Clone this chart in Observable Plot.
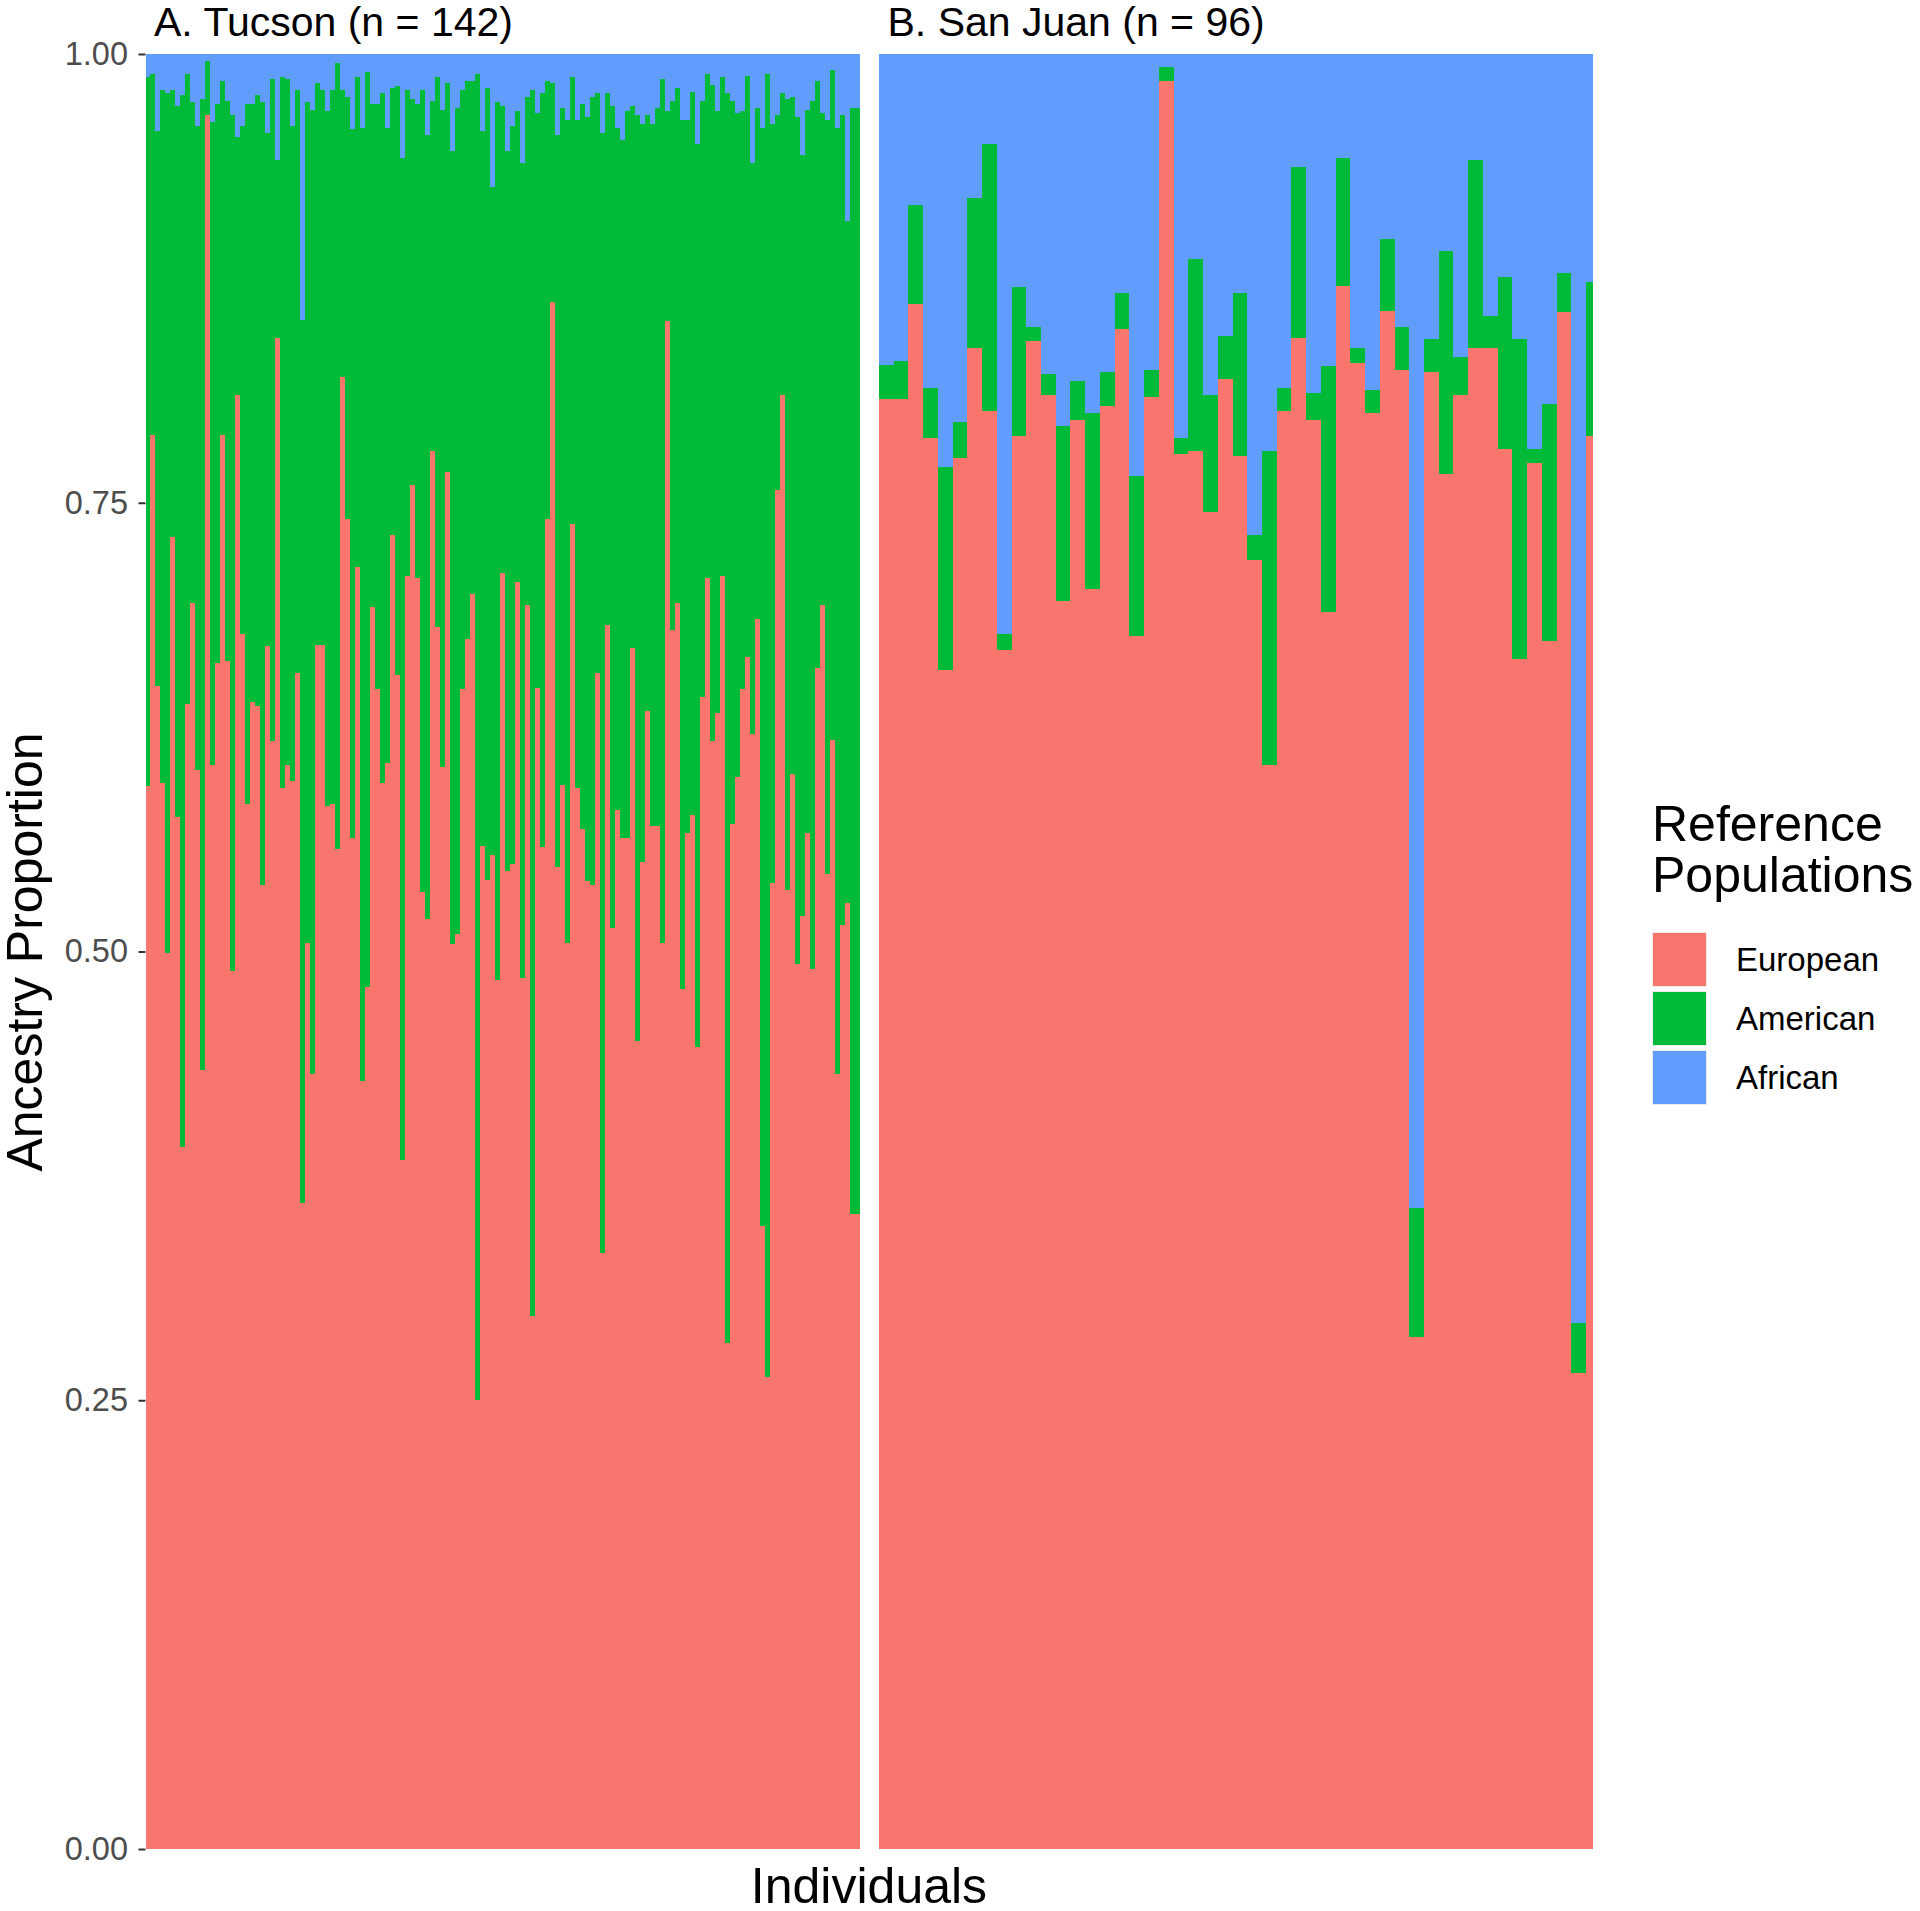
<!DOCTYPE html>
<html>
<head>
<meta charset="utf-8">
<script src="https://cdn.jsdelivr.net/npm/d3@7"></script>
<script src="https://cdn.jsdelivr.net/npm/@observablehq/plot@0.6"></script>
<style>
  html, body { margin: 0; padding: 0; background: #fff; }
  body { width: 1920px; height: 1911px; position: relative; overflow: hidden; font-family: "Liberation Sans", Arial, Helvetica, sans-serif; }
  .abs { position: absolute; }
  #ylab { left: -275px; top: 927px; width: 600px; height: 50px; line-height: 50px; font-size: 50px; text-align: center; transform: rotate(-90deg); color: #000; white-space: nowrap; }
  #xlab { left: 569px; top: 1864px; width: 600px; height: 44px; line-height: 44px; font-size: 50px; text-align: center; color: #000; white-space: nowrap; }
  #legend { left: 1652px; top: 799px; }
  #legend .title { font-size: 50px; line-height: 51px; color: #000; white-space: nowrap; }
  #legend .items { margin-top: 29px; }
  #legend .item { display: flex; align-items: center; height: 59px; }
  #legend .sw { width: 55px; height: 55px; box-sizing: border-box; border: 1px solid #ececec; }
  #legend .lab { font-size: 33px; margin-left: 29px; color: #000; white-space: nowrap; }
  #panelB { left: 878.5px; top: 0px; width: 714.5px; height: 1911px; overflow: hidden; }
  #panelA { left: 0px; top: 0px; }
</style>
</head>
<body>
<div id="panelA" class="abs"></div>
<div id="panelB" class="abs"></div>
<div id="ylab" class="abs">Ancestry Proportion</div>
<div id="xlab" class="abs">Individuals</div>
<div id="legend" class="abs"></div>
<script>
// ---- categories & styling lookups ----
const populations = ["European", "American", "African"];
const populationColors = ["#F8766D", "#00BA38", "#619CFF"];
const yTicks = [0, 0.25, 0.5, 0.75, 1];
const legendTitle = ["Reference", "Populations"];
const titleA = "A. Tucson (n = 142)";
const titleB = "B. San Juan (n = 96)";

// ---- A. Tucson: European and American proportion per individual (African = remainder) ----
const tucsonEuropean = [
  0.592,0.788,0.648,0.594,0.499,0.731,0.575,0.391,0.638,0.694,
  0.601,0.434,0.966,0.604,0.661,0.788,0.662,0.489,0.810,0.677,
  0.582,0.639,0.637,0.537,0.670,0.617,0.842,0.591,0.604,0.595,
  0.655,0.360,0.505,0.432,0.671,0.671,0.581,0.582,0.557,0.820,
  0.741,0.563,0.714,0.428,0.480,0.692,0.646,0.594,0.605,0.732,
  0.654,0.384,0.709,0.760,0.708,0.533,0.518,0.779,0.681,0.603,
  0.767,0.504,0.510,0.646,0.674,0.699,0.250,0.559,0.540,0.554,
  0.484,0.711,0.545,0.549,0.706,0.485,0.693,0.297,0.647,0.558,
  0.741,0.862,0.547,0.593,0.505,0.738,0.591,0.568,0.539,0.537,
  0.655,0.332,0.682,0.513,0.579,0.563,0.563,0.669,0.450,0.550,
  0.634,0.570,0.570,0.505,0.851,0.679,0.694,0.479,0.566,0.576,
  0.447,0.642,0.708,0.617,0.633,0.709,0.282,0.571,0.597,0.646,
  0.664,0.621,0.685,0.347,0.263,0.538,0.757,0.810,0.534,0.599,
  0.493,0.520,0.566,0.490,0.658,0.693,0.543,0.618,0.432,0.515,
  0.527,0.354,0.354
];
const tucsonAmerican = [
  0.395,0.201,0.309,0.386,0.479,0.249,0.396,0.586,0.351,0.279,
  0.359,0.541,0.030,0.358,0.311,0.197,0.312,0.477,0.144,0.283,
  0.390,0.333,0.340,0.436,0.286,0.369,0.099,0.396,0.382,0.365,
  0.325,0.492,0.468,0.537,0.313,0.309,0.387,0.398,0.438,0.160,
  0.235,0.395,0.273,0.531,0.510,0.280,0.326,0.384,0.354,0.249,
  0.328,0.558,0.271,0.215,0.264,0.447,0.437,0.195,0.306,0.366,
  0.217,0.442,0.460,0.334,0.311,0.286,0.739,0.398,0.441,0.372,
  0.489,0.260,0.401,0.411,0.262,0.454,0.283,0.683,0.320,0.420,
  0.244,0.122,0.408,0.377,0.458,0.249,0.372,0.404,0.426,0.439,
  0.323,0.624,0.296,0.458,0.380,0.389,0.405,0.302,0.516,0.411,
  0.332,0.391,0.400,0.481,0.117,0.295,0.287,0.484,0.397,0.403,
  0.503,0.332,0.281,0.366,0.335,0.278,0.696,0.403,0.370,0.322,
  0.324,0.318,0.285,0.612,0.726,0.423,0.209,0.168,0.441,0.377,
  0.472,0.424,0.403,0.484,0.327,0.274,0.420,0.373,0.527,0.451,
  0.380,0.616,0.616
];

// ---- B. San Juan: European and American proportion per visible column (African = remainder) ----
const sanJuanEuropean = [
  0.808,0.808,0.861,0.786,0.657,0.775,0.836,0.801,0.668,0.787,
  0.840,0.810,0.695,0.796,0.702,0.804,0.847,0.676,0.809,0.985,
  0.777,0.779,0.745,0.819,0.776,0.718,0.604,0.801,0.842,0.796,
  0.689,0.871,0.828,0.800,0.857,0.824,0.285,0.823,0.766,0.810,
  0.836,0.836,0.780,0.663,0.772,0.673,0.856,0.265,0.787
];
const sanJuanAmerican = [
  0.019,0.021,0.055,0.028,0.113,0.020,0.084,0.149,0.009,0.083,
  0.008,0.012,0.098,0.022,0.098,0.019,0.020,0.089,0.015,0.008,
  0.009,0.107,0.065,0.024,0.091,0.014,0.175,0.013,0.095,0.015,
  0.137,0.071,0.008,0.013,0.040,0.024,0.072,0.018,0.124,0.021,
  0.105,0.018,0.096,0.178,0.008,0.132,0.022,0.028,0.086
];

function toRows(eur, amer) {
  return eur.flatMap((e, i) => [
    {id: i, population: "European", value: e},
    {id: i, population: "American", value: amer[i]},
    {id: i, population: "African", value: Math.max(0, 1 - e - amer[i])}
  ]);
}
const rowsA = toRows(tucsonEuropean, tucsonAmerican);
const rowsB = toRows(sanJuanEuropean, sanJuanAmerican);

const font = "'Liberation Sans', Arial, Helvetica, sans-serif";
const colorScale = {domain: populations, range: populationColors};

const panelA = Plot.plot({
  width: 860, height: 1911,
  marginLeft: 145.5, marginRight: 0, marginTop: 54, marginBottom: 62,
  style: {fontFamily: font, background: "white"},
  x: {type: "band", domain: d3.range(tucsonEuropean.length), padding: 0, axis: null},
  y: {domain: [0, 1], axis: null},
  color: colorScale,
  marks: [
    Plot.barY(rowsA, Plot.stackY({x: "id", y: "value", fill: "population", order: populations, shapeRendering: "crispEdges"})),
    Plot.axisY({ticks: yTicks, tickFormat: d3.format(".2f"), tickSize: 7, tickPadding: 11, fontSize: 32.5, fill: "#4D4D4D", stroke: "#333333", strokeWidth: 2, label: null}),
    Plot.text([titleA], {frameAnchor: "top-left", dx: 8, dy: -48, textAnchor: "start", fontSize: 41, fill: "black"})
  ]
});
document.getElementById("panelA").appendChild(panelA);

const panelB = Plot.plot({
  width: 714.5, height: 1911,
  marginLeft: 0, marginRight: 0, marginTop: 54, marginBottom: 62,
  style: {fontFamily: font, background: "white"},
  x: {type: "band", domain: d3.range(sanJuanEuropean.length), padding: 0, range: [0, 721.8], axis: null},
  y: {domain: [0, 1], axis: null},
  color: colorScale,
  marks: [
    Plot.barY(rowsB, Plot.stackY({x: "id", y: "value", fill: "population", order: populations, shapeRendering: "crispEdges", clip: true})),
    Plot.text([titleB], {frameAnchor: "top-left", dx: 8, dy: -48, textAnchor: "start", fontSize: 41, fill: "black"})
  ]
});
document.getElementById("panelB").appendChild(panelB);

// ---- legend ----
const legend = document.getElementById("legend");
const t = document.createElement("div");
t.className = "title";
t.innerHTML = legendTitle.join("<br>");
legend.appendChild(t);
const items = document.createElement("div");
items.className = "items";
populations.forEach((p, i) => {
  const it = document.createElement("div");
  it.className = "item";
  const sw = document.createElement("div");
  sw.className = "sw";
  sw.style.background = populationColors[i];
  const lab = document.createElement("div");
  lab.className = "lab";
  lab.textContent = p;
  it.appendChild(sw); it.appendChild(lab);
  items.appendChild(it);
});
legend.appendChild(items);
</script>
</body>
</html>
